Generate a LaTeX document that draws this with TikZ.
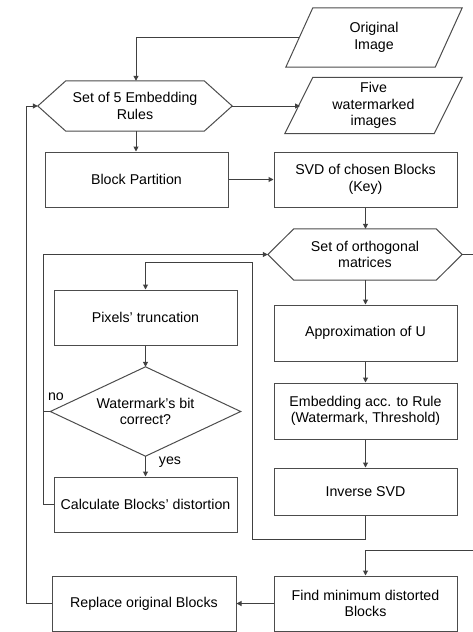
\documentclass[tikz,border=0pt]{standalone}
\usepackage{fontspec}
\setmainfont{Liberation Sans}
\usetikzlibrary{arrows.meta}
\begin{document}
\begin{tikzpicture}[x=1pt,y=-1pt,
  wire/.style={draw=black!75, line width=1pt},
  arr/.style={wire, -{Triangle[length=5pt,width=5pt]}},
  fnt/.style={font=\fontsize{14.2}{16.5}\selectfont},
  box/.style={draw=black!70, line width=1pt, inner sep=0pt, align=center, fnt},
  ghost/.style={inner sep=0pt, align=center, fnt},
  shp/.style={draw=black!70, line width=1pt, line join=miter}
]
\useasboundingbox (0,0) rectangle (473,632);
\clip (0,0) rectangle (473,632);

% parallelograms
\node[ghost, minimum width=176, minimum height=59] (orig) at (374,37.5) {Original\\Image};
\draw[shp] (orig.south west) -- ([xshift=27]orig.north west) -- (orig.north east) -- ([xshift=-27]orig.south east) -- cycle;
\node[ghost, minimum width=177, minimum height=56] (five) at (373.5,105.5) {Five\\watermarked\\images};
\draw[shp] (five.south west) -- ([xshift=28]five.north west) -- (five.north east) -- ([xshift=-28]five.south east) -- cycle;

% hexagons
\node[ghost, minimum width=194, minimum height=50] (h1) at (135,106) {Set of 5 Embedding\\Rules};
\draw[shp] (h1.west) -- ([xshift=28]h1.north west) -- ([xshift=-28]h1.north east) -- (h1.east) -- ([xshift=-28]h1.south east) -- ([xshift=28]h1.south west) -- cycle;
\node[ghost, minimum width=194, minimum height=51] (h2) at (365,254.5) {Set of orthogonal\\matrices};
\draw[shp] (h2.west) -- ([xshift=26]h2.north west) -- ([xshift=-26]h2.north east) -- (h2.east) -- ([xshift=-26]h2.south east) -- ([xshift=26]h2.south west) -- cycle;

% boxes
\node[box, minimum width=183, minimum height=55] (bp) at (136.5,179.5) {Block Partition};
\node[box, minimum width=183, minimum height=55] (svd) at (365.5,179.5) {SVD of chosen Blocks\\(Key)};
\node[box, minimum width=183, minimum height=56] (ap) at (365.5,333) {Approximation of U};
\node[box, minimum width=183, minimum height=56] (emb) at (365.5,411) {Embedding acc. to Rule\\(Watermark, Threshold)};
\node[box, minimum width=183, minimum height=47] (inv) at (365.5,491.5) {Inverse SVD};
\node[box, minimum width=183, minimum height=55] (find) at (365.5,603.5) {Find minimum distorted\\Blocks};
\node[box, minimum width=184, minimum height=55] (rep) at (144,603.5) {Replace original Blocks};
\node[box, minimum width=183, minimum height=55] (px) at (145.5,317.5) {Pixels’ truncation};
\node[box, minimum width=183, minimum height=55] (calc) at (145.5,504.5) {Calculate Blocks’ distortion};

% diamond
\node[ghost, minimum width=190, minimum height=89] (dm) at (145.5,411.5) {Watermark’s bit\\correct?};
\draw[shp] (dm.north) -- (dm.east) -- (dm.south) -- (dm.west) -- cycle;

% helper coordinates
\coordinate (lx) at (43,0);
\coordinate (ox) at (26,0);
\coordinate (rx) at (480,0);
\coordinate (ry) at (0,550);
\coordinate (c1) at (252,539);
\coordinate (c2) at (252,262);
\coordinate (fx) at (300,0);

% connectors
\draw[arr] ([xshift=13.5]orig.west) -| ([xshift=1]h1.north);
\draw[arr] (h1.east) -- (fx |- h1.east);
\draw[arr] ([xshift=1]h1.south) -- ([xshift=1]h1.south |- bp.north);
\draw[arr] (bp.east) -- (svd.west);
\draw[arr] (svd.south) -- (svd.south |- h2.north);
\draw[arr] (svd.south |- h2.south) -- (ap.north);
\draw[arr] (ap.south) -- (emb.north);
\draw[arr] (emb.south) -- (inv.north);
\draw[arr] (inv.south) |- (c1) -- (c2) -| (px.north);
\draw[arr] (px.south) -- (dm.north);
\draw[arr] (dm.south) -- (calc.north);
\draw[wire] (dm.west) -- (lx |- dm.west);
\draw[arr] (calc.west) -| (lx |- h2.west) -- (h2.west);
\draw[arr] (h2.east) -- (rx |- h2.east) -- (rx |- ry) -| (find.north);
\draw[arr] (find.west) -- (rep.east);
\draw[arr] (rep.west) -| (ox |- h1.west) -- (h1.west);

% labels
\node[ghost] (nolab) at (56,397) {no};
\node[ghost] (yeslab) at (170,462) {yes};
\end{tikzpicture}
\end{document}
